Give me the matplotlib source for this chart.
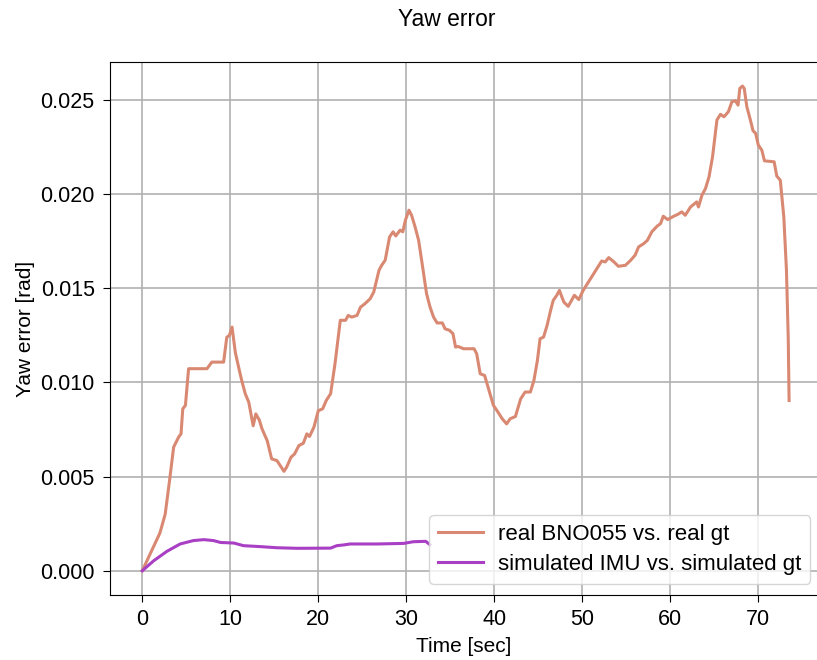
import matplotlib
matplotlib.use("Agg")
import matplotlib.pyplot as plt

plt.rcParams['font.family'] = ['Liberation Sans', 'DejaVu Sans']
plt.rcParams['font.size'] = 15

# real BNO055 vs. real gt
real_t = [0.0, 1.0, 2.0, 2.6, 3.1, 3.56, 4.13, 4.4, 4.6, 4.9, 5.26, 7.35, 7.9, 9.24, 9.6, 9.9,
          10.2, 10.57, 10.95, 11.3, 11.7, 12.1, 12.6, 12.9, 13.3, 13.6, 14.2, 14.7, 15.3,
          16.1, 16.4, 16.9, 17.3, 17.8, 18.3, 18.7, 19.0, 19.5, 20.0, 20.5, 20.9, 21.4,
          21.9, 22.5, 23.1, 23.4, 23.8, 24.4, 24.8, 25.3, 25.9, 26.3, 26.9, 27.2, 27.6,
          28.1, 28.5, 28.8, 29.3, 29.6, 29.9, 30.3, 30.6, 31.0, 31.4, 31.8, 32.3, 32.7,
          33.1, 33.5, 34.1, 34.4, 34.9, 35.3, 35.6, 35.9, 36.5, 37.7, 38.0, 38.4, 38.9,
          39.4, 39.9, 40.3, 40.9, 41.4, 41.8, 42.4, 43.0, 43.5, 44.1, 44.5, 44.9, 45.2,
          45.6, 46.0, 46.4, 46.7, 47.1, 47.4, 47.9, 48.4, 49.1, 49.6, 50.1, 50.7, 51.3,
          51.9, 52.2, 52.6, 53.0, 53.6, 54.1, 54.9, 55.5, 56.0, 56.4, 57.0, 57.4, 57.9,
          58.5, 58.9, 59.2, 59.7, 60.4, 60.9, 61.3, 61.7, 62.3, 62.7, 63.0, 63.2, 63.6,
          64.0, 64.4, 64.8, 65.0, 65.3, 65.7, 66.1, 66.6, 67.0, 67.4, 67.7, 67.9, 68.2,
          68.4, 68.7, 69.1, 69.4, 69.7, 70.0, 70.4, 70.7, 71.8, 72.1, 72.5, 72.9, 73.2,
          73.4, 73.5]
real_err = [0.0, 0.0010, 0.0020, 0.0030, 0.0048, 0.00656, 0.0071, 0.00727, 0.0086, 0.00878,
            0.01073, 0.01073, 0.01108, 0.01108, 0.0124, 0.0125, 0.01294, 0.0116, 0.0108,
            0.0101, 0.0094, 0.00895, 0.0077, 0.00833, 0.0080, 0.00754, 0.0069, 0.00594,
            0.00585, 0.00528, 0.0055, 0.00603, 0.0062, 0.00665, 0.00677, 0.00727, 0.00713,
            0.00762, 0.0085, 0.0086, 0.00904, 0.0094, 0.0110, 0.0133, 0.0133, 0.01356,
            0.01347, 0.01356, 0.0140, 0.01418, 0.01445, 0.0148, 0.01596, 0.01622, 0.01649,
            0.01773, 0.0180, 0.01778, 0.01809, 0.0180, 0.01862, 0.01915, 0.01888, 0.01826,
            0.01755, 0.01631, 0.01472, 0.0140, 0.01347, 0.01316, 0.01316, 0.01285, 0.01277,
            0.01259, 0.01188, 0.01191, 0.01179, 0.01179, 0.01152, 0.01046, 0.01037,
            0.00957, 0.00878, 0.00851, 0.00807, 0.0078, 0.00807, 0.00819, 0.00913,
            0.00949, 0.00949, 0.0101, 0.01117, 0.01232, 0.01241, 0.01303, 0.01383,
            0.01436, 0.01463, 0.01489, 0.01427, 0.01404, 0.01463, 0.0144, 0.01489,
            0.01534, 0.01578, 0.01622, 0.01645, 0.0164, 0.01663, 0.0164, 0.01617, 0.01622,
            0.01649, 0.01676, 0.0172, 0.01738, 0.01755, 0.0180, 0.0183, 0.01844, 0.01883,
            0.01865, 0.01883, 0.01894, 0.01906, 0.01888, 0.01932, 0.01947, 0.01959,
            0.01932, 0.01995, 0.0203, 0.02092, 0.02198, 0.02278, 0.02394, 0.02424,
            0.02411, 0.02438, 0.02491, 0.02496, 0.02473, 0.02562, 0.02574, 0.02562,
            0.02464, 0.02394, 0.02337, 0.02323, 0.02261, 0.02234, 0.02177, 0.02172,
            0.02096, 0.02074, 0.01879, 0.01596, 0.0124, 0.00904]

# simulated IMU vs. simulated gt
sim_t = [0.0, 1.3, 2.8, 4.3, 5.8, 7.0, 8.1, 8.9, 10.4, 11.5, 13.4, 15.3, 17.6, 21.4, 22.1,
         22.9, 23.6, 26.7, 29.7, 30.8, 32.2, 32.7]
sim_err = [0.0, 0.00053, 0.00103, 0.00142, 0.0016, 0.00165, 0.0016, 0.0015, 0.00147,
           0.00133, 0.00128, 0.00122, 0.00119, 0.0012, 0.00133, 0.00137, 0.00142,
           0.00142, 0.00145, 0.00154, 0.00156, 0.00138]

fig = plt.figure(figsize=(8.17, 6.6), dpi=100)
# the original is cropped on the right: no right spine, axes ends at the edge
ax = fig.add_axes([110 / 817, 65 / 660, 707 / 817, 533 / 660])
ax.spines['right'].set_visible(False)

ax.plot(real_t, real_err, color='#d98872', linewidth=2.2, label='real BNO055 vs. real gt')
ax.plot(sim_t, sim_err, color='#a83fc4', linewidth=2.2, label='simulated IMU vs. simulated gt')

ax.set_xlim(-3.67, -3.67 + 707 / 8.8)
ax.set_ylim(-0.00129, 0.02702)
ax.set_xticks([0, 10, 20, 30, 40, 50, 60, 70])
ax.set_yticks([0.0, 0.005, 0.010, 0.015, 0.020, 0.025])
ax.yaxis.set_major_formatter(matplotlib.ticker.FormatStrFormatter('%.3f'))
ax.grid(True, color='#b0b0b0', linewidth=1.2)
ax.tick_params(length=5, labelsize=15.5)
ax.tick_params(axis='y', pad=6)
ax.tick_params(axis='x', pad=5)

ax.set_xlabel('Time [sec]', labelpad=5)
ax.set_ylabel('Yaw error [rad]', labelpad=4)
fig.suptitle('Yaw error', x=447 / 817, y=1 - 20 / 660, va='center', fontsize=16.5)
ax.legend(loc='lower right', fontsize=16, handletextpad=0.7, labelspacing=0.4,
          bbox_to_anchor=(0, 0, (813 - 110) / 707 + 0.012, 1))

fig.savefig('out.png', dpi=100)
